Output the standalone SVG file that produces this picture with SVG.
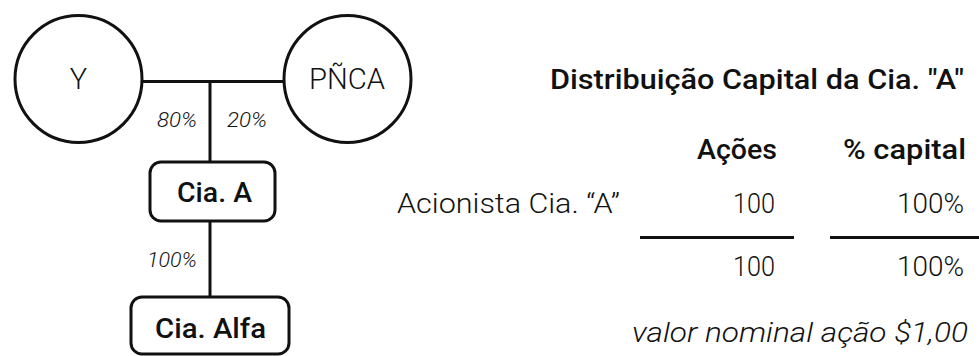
<svg xmlns="http://www.w3.org/2000/svg" width="979" height="356" viewBox="0 0 979 356">
<style>
text{font-family:Roboto,"Liberation Sans",sans-serif;fill:#111}
.lt{font-weight:300}
.bd{font-weight:500}
.it{font-style:italic;font-weight:300}
.node{fill:#fff;stroke:#111;stroke-width:3}
.conn{stroke:#111;stroke-width:3;fill:none}
</style>
<rect width="979" height="356" fill="#fff"/>
<g id="connectors">
<path class="conn" d="M142 81.5H283M210 81.5V162M210 221V297"/>
</g>
<g id="node-y">
<circle class="node" cx="78.5" cy="79" r="63.5"/>
<text class="lt" x="78.5" y="89" font-size="29" text-anchor="middle">Y</text>
</g>
<g id="node-pnca">
<circle class="node" cx="347.5" cy="79" r="63.5"/>
<text class="lt" x="309" y="89" font-size="29" textLength="76" lengthAdjust="spacingAndGlyphs">PÑCA</text>
</g>
<g id="node-cia-a">
<rect class="node" x="150" y="162" width="125" height="59" rx="11"/>
<text class="bd" x="177" y="202" font-size="27" textLength="75" lengthAdjust="spacingAndGlyphs">Cia. A</text>
</g>
<g id="node-cia-alfa">
<rect class="node" x="131" y="297" width="158" height="57" rx="11"/>
<text class="bd" x="155" y="338" font-size="27" textLength="111" lengthAdjust="spacingAndGlyphs">Cia. Alfa</text>
</g>
<g id="edge-labels">
<text class="it" x="157" y="127" font-size="20" textLength="40" lengthAdjust="spacingAndGlyphs">80%</text>
<text class="it" x="227" y="127" font-size="20" textLength="40" lengthAdjust="spacingAndGlyphs">20%</text>
<text class="it" x="147" y="267" font-size="20" textLength="50" lengthAdjust="spacingAndGlyphs">100%</text>
</g>
<g id="table">
<text class="bd" x="550" y="89" font-size="28" textLength="414" lengthAdjust="spacingAndGlyphs">Distribuição Capital da Cia. "A"</text>
<text class="bd" x="697" y="159" font-size="28" textLength="80" lengthAdjust="spacingAndGlyphs">Ações</text>
<text class="bd" x="843" y="159" font-size="28" textLength="123" lengthAdjust="spacingAndGlyphs">% capital</text>
<text class="lt" x="397" y="213" font-size="28" textLength="223" lengthAdjust="spacingAndGlyphs">Acionista Cia. “A”</text>
<text class="lt" x="733" y="213" font-size="28" textLength="42" lengthAdjust="spacingAndGlyphs">100</text>
<text class="lt" x="897" y="213" font-size="28" textLength="67" lengthAdjust="spacingAndGlyphs">100%</text>
<path class="conn" d="M640 237.5H794M830 237.5H979"/>
<text class="lt" x="733" y="276" font-size="28" textLength="42" lengthAdjust="spacingAndGlyphs">100</text>
<text class="lt" x="897" y="276" font-size="28" textLength="67" lengthAdjust="spacingAndGlyphs">100%</text>
<text class="it" x="632" y="342" font-size="27" textLength="336" lengthAdjust="spacingAndGlyphs">valor nominal ação $1,00</text>
</g>
</svg>
